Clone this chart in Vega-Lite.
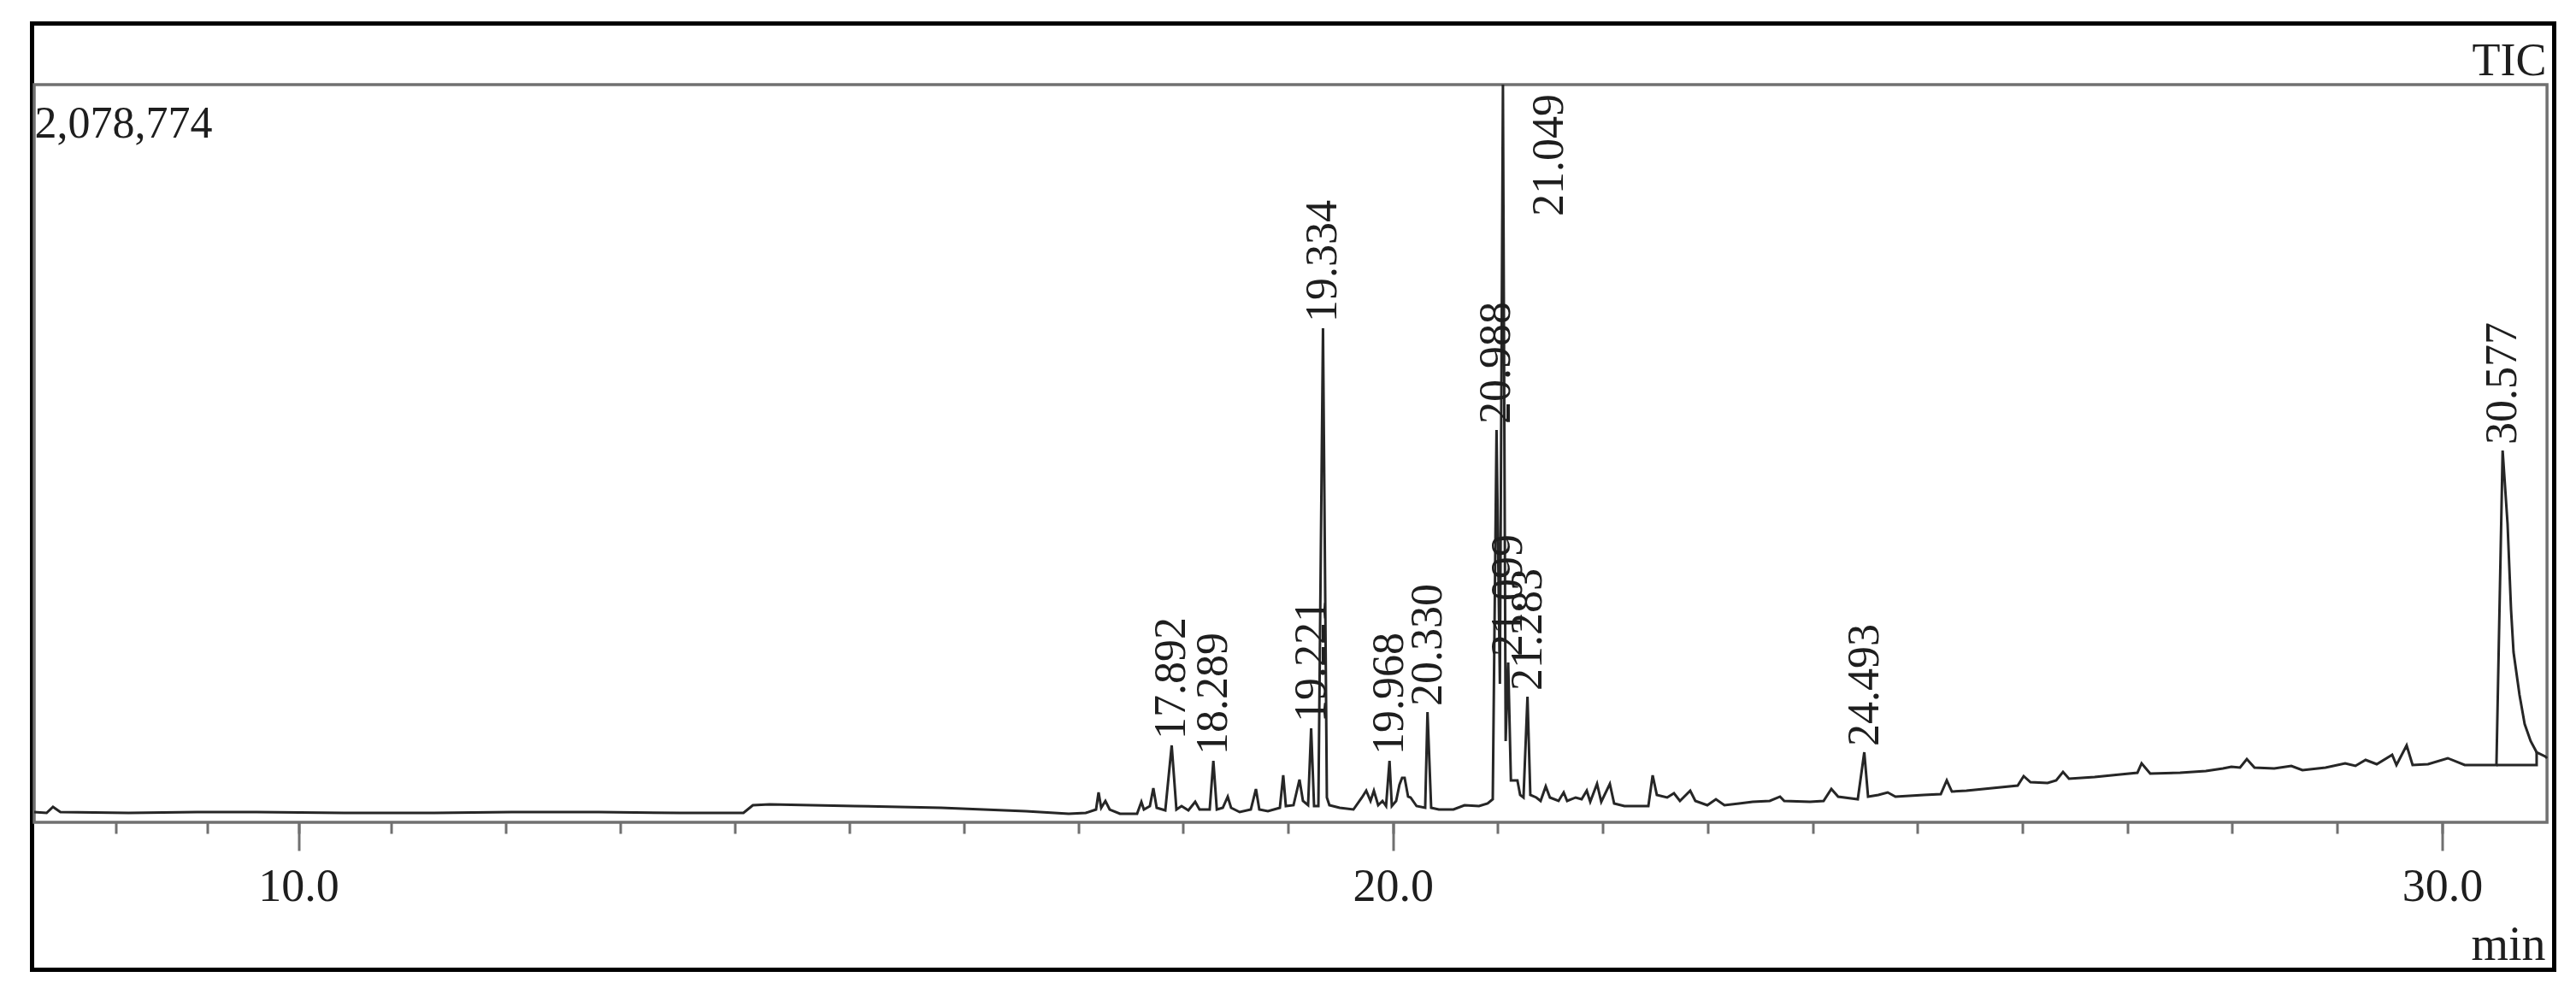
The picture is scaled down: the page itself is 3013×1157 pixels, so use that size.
{
  "$schema": "https://vega.github.io/schema/vega-lite/v6.json",
  "autosize": {"type": "none"},
  "padding": {"left": 37.5, "top": 27.5, "right": 25.5, "bottom": 22.5},
  "width": 2950,
  "height": 1107,
  "background": "white",
  "config": {
    "view": {"stroke": "black", "strokeWidth": 5},
    "font": "Liberation Serif",
    "axis": {"labelFont": "Liberation Serif", "titleFont": "Liberation Serif", "labelColor": "#1e1e1e", "titleColor": "#1e1e1e", "titleFontWeight": "normal", "labelLimit": 0},
    "text": {"font": "Liberation Serif"}
  },
  "datasets": {
    "trace": [
      {"t":7.104,"i":28900},{"t":7.24,"i":26500},{"t":7.31,"i":43400},{"t":7.391,"i":28900},{"t":8.139,"i":26500},{"t":8.887,"i":28900},{"t":9.542,"i":28900},{"t":10.491,"i":26500},{"t":11.322,"i":26500},{"t":12.055,"i":28900},{"t":12.815,"i":28900},{"t":13.52,"i":26500},{"t":14.079,"i":26500},{"t":14.161,"i":48200},{"t":14.307,"i":50600},{"t":15.052,"i":45800},{"t":15.803,"i":40900},{"t":16.543,"i":31300},{"t":16.918,"i":24100},
      {"t":17.073,"i":26500},{"t":17.171,"i":36100},{"t":17.195,"i":84300},{"t":17.22,"i":40900},{"t":17.26,"i":60200},{"t":17.301,"i":36100},{"t":17.399,"i":24100},{"t":17.562,"i":24100},{"t":17.603,"i":57800},{"t":17.627,"i":36100},{"t":17.684,"i":45800},{"t":17.717,"i":96400},{"t":17.749,"i":40900},{"t":17.831,"i":33700},{"t":17.892,"i":216800},{"t":17.937,"i":36100},{"t":17.986,"i":45800},{"t":18.051,"i":33700},{"t":18.116,"i":57800},{"t":18.157,"i":36100},{"t":18.254,"i":36100},{"t":18.289,"i":173400},{"t":18.322,"i":36100},{"t":18.379,"i":40900},{"t":18.426,"i":72300},{"t":18.458,"i":40900},{"t":18.54,"i":28900},{"t":18.646,"i":36100},{"t":18.695,"i":93900},{"t":18.727,"i":36100},{"t":18.809,"i":31300},{"t":18.923,"i":40900},{"t":18.955,"i":132500},{"t":18.98,"i":45800},{"t":19.053,"i":48200},{"t":19.11,"i":120400},{"t":19.143,"i":60200},{"t":19.192,"i":48200},{"t":19.221,"i":265000},{"t":19.249,"i":45800},{"t":19.29,"i":45800},{"t":19.334,"i":1392300},{"t":19.371,"i":69900},{"t":19.395,"i":48200},{"t":19.493,"i":40900},{"t":19.624,"i":36100},{"t":19.705,"i":69900},{"t":19.746,"i":89100},{"t":19.787,"i":60200},{"t":19.819,"i":89100},{"t":19.86,"i":48200},{"t":19.901,"i":60200},{"t":19.935,"i":45800},{"t":19.968,"i":173400},{"t":19.99,"i":45800},
      {"t":20.031,"i":60200},{"t":20.063,"i":106000},{"t":20.088,"i":125300},{"t":20.112,"i":125300},{"t":20.145,"i":72300},{"t":20.169,"i":69900},{"t":20.226,"i":45800},{"t":20.308,"i":40900},{"t":20.33,"i":310700},{"t":20.365,"i":40900},{"t":20.438,"i":36100},{"t":20.577,"i":36100},{"t":20.683,"i":48200},{"t":20.821,"i":45800},{"t":20.903,"i":53000},{"t":20.952,"i":65000},{"t":20.988,"i":1105600},{"t":21.02,"i":390200},{"t":21.049,"i":2078774},{"t":21.075,"i":228800},{"t":21.099,"i":450400},{"t":21.125,"i":118000},{"t":21.187,"i":118000},{"t":21.213,"i":77100},{"t":21.245,"i":69900},{"t":21.283,"i":354100},{"t":21.31,"i":77100},{"t":21.367,"i":69900},{"t":21.408,"i":60200},{"t":21.457,"i":101200},{"t":21.497,"i":69900},{"t":21.579,"i":60200},{"t":21.628,"i":84300},{"t":21.661,"i":60200},{"t":21.742,"i":69900},{"t":21.799,"i":65000},{"t":21.848,"i":89100},{"t":21.881,"i":57800},{"t":21.946,"i":108400},{"t":21.986,"i":57800},{"t":22.068,"i":108400},{"t":22.109,"i":53000},{"t":22.207,"i":45800},{"t":22.345,"i":45800},{"t":22.435,"i":45800},{"t":22.476,"i":132500},{"t":22.516,"i":77100},{"t":22.614,"i":69900},{"t":22.679,"i":81900},{"t":22.736,"i":60200},{"t":22.834,"i":89100},{"t":22.883,"i":60200},{"t":22.997,"i":48200},{"t":23.079,"i":65000},{"t":23.16,"i":48200},{"t":23.429,"i":57800},{"t":23.592,"i":60200},{"t":23.69,"i":72300},{"t":23.73,"i":60200},{"t":23.975,"i":57800},{"t":24.105,"i":60200},{"t":24.179,"i":93900},{"t":24.244,"i":72300},{"t":24.431,"i":65000},{"t":24.493,"i":197500},{"t":24.529,"i":72300},{"t":24.627,"i":77100},{"t":24.716,"i":84300},{"t":24.79,"i":72300},
      {"t":25.059,"i":77100},{"t":25.222,"i":79500},{"t":25.279,"i":118000},{"t":25.328,"i":86700},{"t":25.466,"i":89100},{"t":25.711,"i":96400},{"t":25.955,"i":103600},{"t":26.012,"i":130100},{"t":26.077,"i":113200},{"t":26.24,"i":110800},{"t":26.322,"i":118000},{"t":26.387,"i":142100},{"t":26.444,"i":122800},{"t":26.688,"i":127700},{"t":26.933,"i":134900},{"t":27.096,"i":139700},{"t":27.136,"i":166200},{"t":27.218,"i":137300},{"t":27.503,"i":139700},{"t":27.748,"i":144500},{"t":27.911,"i":151800},{"t":27.992,"i":156600},{"t":28.074,"i":154200},{"t":28.139,"i":178300},{"t":28.212,"i":154200},{"t":28.4,"i":151800},{"t":28.563,"i":159000},{"t":28.669,"i":146900},{"t":28.889,"i":154200},{"t":29.076,"i":166200},{"t":29.174,"i":159000},{"t":29.271,"i":175800},{"t":29.377,"i":163800},{"t":29.524,"i":190300},{"t":29.565,"i":161400},{"t":29.662,"i":216800},{"t":29.719,"i":161400},{"t":29.866,"i":163800},{"t":30.054,"i":180700},{"t":30.216,"i":161400},{"t":30.518,"i":161400},{"t":30.577,"i":1047800},{"t":30.624,"i":840700},{"t":30.657,"i":599800},{"t":30.681,"i":479400},{"t":30.738,"i":358900},{"t":30.787,"i":277000},{"t":30.844,"i":228800},{"t":30.901,"i":197500},{"t":30.983,"i":185500},{"t":31.0,"i":180700}
    ],
    "base": [
      {"t":30.518,"i":161400,"s":"p30"},{"t":30.901,"i":161400,"s":"p30"},{"t":30.901,"i":197500,"s":"p30"}
    ],
    "peaks": [
      {"t":17.892,"i":216800,"lab":"17.892"},
      {"t":18.289,"i":173400,"lab":"18.289"},
      {"t":19.221,"i":265000,"lab":"19.221"},
      {"t":19.334,"i":1392300,"lab":"19.334"},
      {"t":19.968,"i":173400,"lab":"19.968"},
      {"t":20.330,"i":310700,"lab":"20.330"},
      {"t":20.988,"i":1105600,"lab":"20.988"},
      {"t":21.049,"i":2078774,"lab":"21.049"},
      {"t":21.099,"i":450400,"lab":"21.099"},
      {"t":21.283,"i":354100,"lab":"21.283"},
      {"t":24.493,"i":197500,"lab":"24.493"},
      {"t":30.577,"i":1047800,"lab":"30.577"}
    ]
  },
  "layer": [
    {
      "data": {"values": [{}]},
      "mark": {"type": "rect", "fillOpacity": 0, "stroke": "#707070", "strokeWidth": 3.5},
      "encoding": {
        "x": {"datum": 7.104, "type": "quantitative",
          "scale": {"type": "linear", "domain": [7.104, 10, 11, 17, 31.0], "range": [2.5, 311.5, 419.5, 1223.5, 2941.6], "nice": false, "zero": false},
          "axis": {"orient": "bottom", "values": [8,9,10,11,12,13,14,15,16,17,18,19,20,21,22,23,24,25,26,27,28,29,30], "tickSize": 13, "tickWidth": 3, "tickColor": "#707070", "labels": false, "domain": false, "grid": false, "offset": -172.5, "title": null}},
        "x2": {"datum": 31.0},
        "y": {"datum": 0, "type": "quantitative",
          "scale": {"domain": [0, 2078774], "range": [934.5, 71.5], "nice": false, "zero": false},
          "axis": null},
        "y2": {"datum": 2078774}
      }
    },
    {
      "data": {"name": "trace"},
      "mark": {"type": "line", "color": "#262626", "strokeWidth": 3, "clip": true},
      "encoding": {
        "x": {"field": "t", "type": "quantitative",
          "axis": {"orient": "bottom", "values": [10, 20, 30], "format": ".1f", "tickSize": 33, "tickWidth": 3, "tickColor": "#707070", "domain": false, "grid": false, "labelFontSize": 54, "labelPadding": 15, "labelFlush": false, "offset": -172.5,
            "title": "min", "titleFontSize": 56, "titleX": 2939.5, "titleY": 160, "titleAlign": "right", "titleBaseline": "alphabetic", "titleAnchor": null}},
        "y": {"field": "i", "type": "quantitative",
          "axis": {"orient": "left", "values": [2078774], "format": ",d", "ticks": false, "tickSize": 0, "domain": false, "grid": false, "labelAlign": "left", "labelPadding": -2.5, "labelBaseline": "alphabetic", "labelOffset": 61, "labelFontSize": 52, "labelFlush": false, "labelLimit": 0,
            "title": "TIC", "titleAngle": 0, "titleFontSize": 54, "titleX": 2940.5, "titleY": 59.5, "titleAlign": "right", "titleBaseline": "alphabetic"}},
        "order": {"field": "t", "type": "quantitative"}
      }
    },
    {
      "data": {"name": "base"},
      "mark": {"type": "line", "color": "#262626", "strokeWidth": 3},
      "encoding": {
        "x": {"field": "t", "type": "quantitative", "axis": null},
        "y": {"field": "i", "type": "quantitative", "axis": null},
        "detail": {"field": "s"}
      }
    },
    {
      "data": {"name": "peaks"},
      "transform": [{"filter": "datum.lab !== '21.049'"}],
      "mark": {"type": "text", "angle": 270, "align": "left", "baseline": "middle", "dx": 7, "fontSize": 52, "color": "#1e1e1e"},
      "encoding": {
        "x": {"field": "t", "type": "quantitative", "axis": null},
        "y": {"field": "i", "type": "quantitative", "axis": null},
        "text": {"field": "lab"}
      }
    },
    {
      "data": {"name": "peaks"},
      "transform": [{"filter": "datum.lab === '21.049'"}],
      "mark": {"type": "text", "angle": 270, "align": "left", "baseline": "middle", "dx": -154, "dy": 54, "fontSize": 52, "color": "#1e1e1e"},
      "encoding": {
        "x": {"field": "t", "type": "quantitative", "axis": null},
        "y": {"field": "i", "type": "quantitative", "axis": null},
        "text": {"field": "lab"}
      }
    }
  ],
  "resolve": {"axis": {"x": "independent", "y": "independent"}}
}
